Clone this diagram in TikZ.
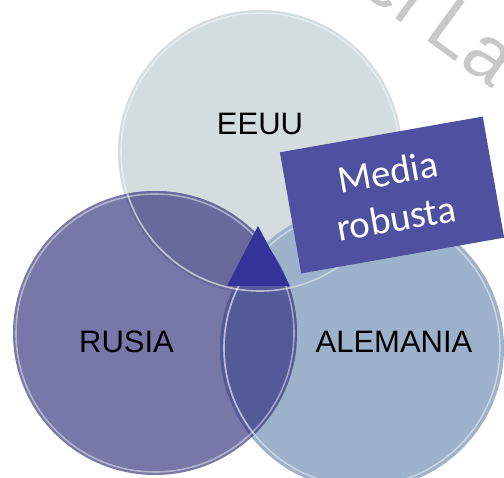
\documentclass[tikz,border=0pt]{standalone}
\usepackage{fontspec}
\setmainfont{Liberation Sans}
\newfontfamily\calib{Carlito}
\definecolor{cEEUU}{HTML}{D3DDE0}
\definecolor{cALE}{HTML}{9DB1CB}
\definecolor{cRUS}{HTML}{7777A8}
\definecolor{cRE}{HTML}{686A9B}
\definecolor{cRA}{HTML}{545A97}
\definecolor{cTri}{HTML}{343399}
\definecolor{cBox}{HTML}{5050A0}
\definecolor{cMark}{HTML}{C8C8C8}
\tikzset{
  setcircle/.style={circle, minimum size=284, inner sep=0, fill=#1},
  rim/.style={draw=white, draw opacity=0.45, line width=1.6},
  lbl/.style={font=\fontsize{31}{36}\selectfont, text=black, inner sep=0},
  boxnode/.style={fill=cBox, text=white, minimum width=206, minimum height=123,
     inner sep=0, align=center, font=\calib\fontsize{39}{47}\selectfont}
}
\begin{document}
\begin{tikzpicture}[x=1pt,y=-1pt]
\useasboundingbox (0,0) rectangle (504,478);
\clip (0,0) rectangle (504,478);
% watermark
\node[anchor=base west, rotate=-36, inner sep=0, text=cMark,
      font=\fontsize{78}{90}\selectfont] (mark) at (356,-10.5) {el La};
% circles
\node[setcircle=cEEUU] (eeuu) at (260,152) {};
\node[setcircle=cALE] (ale) at (362,348) {};
\node[setcircle=cRUS] (rus) at (155,333) {};
\begin{scope}
  \clip (rus.center) circle[radius=142];
  \fill[cRE] (eeuu.center) circle[radius=142];
  \fill[cRA] (ale.center) circle[radius=142];
\end{scope}
% rims
\draw[rim] (eeuu.center) circle[radius=139];
\draw[rim] (ale.center) circle[radius=138];
\draw[rim] (rus.center) circle[radius=139];
\begin{scope}
  \clip (rus.center) circle[radius=142];
  \draw[draw=white, draw opacity=0.25, line width=1.6] (eeuu.center) circle[radius=139];
  \draw[draw=white, draw opacity=0.3, line width=1.6] (ale.center) circle[radius=138];
\end{scope}
% triangle
\coordinate (ta) at (258,226);
\coordinate (tb) at (227,286);
\coordinate (tc) at (290,286);
\fill[cTri] (ta) -- (tb) -- (tc) -- cycle;
% labels
\node[lbl] (leeuu) at (260,123.5) {EEUU};
\node[lbl] (lrus) at (126.5,341.5) {RUSIA};
\node[lbl] (lale) at (394,341.5) {ALEMANIA};
% box
\node[boxnode, rotate=10] (box) at (392,195) {Media\\robusta};
\end{tikzpicture}
\end{document}
